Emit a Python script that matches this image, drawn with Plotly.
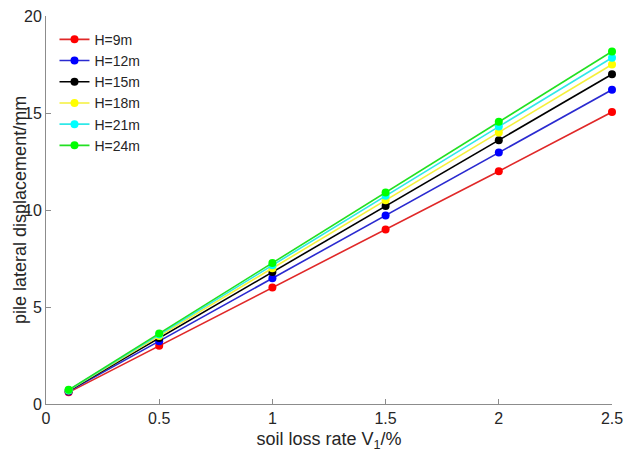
import plotly.graph_objects as go

x_vals = [0.1, 0.5, 1.0, 1.5, 2.0, 2.5]
names = ["H=9m", "H=12m", "H=15m", "H=18m", "H=21m", "H=24m"]
h9 = [0.60, 3.00, 6.00, 9.00, 12.00, 15.05]
h12 = [0.65, 3.24, 6.48, 9.72, 12.96, 16.20]
h15 = [0.68, 3.40, 6.80, 10.20, 13.60, 17.00]
h18 = [0.70, 3.50, 7.00, 10.50, 14.00, 17.50]
h21 = [0.715, 3.58, 7.15, 10.73, 14.30, 17.85]
h24 = [0.73, 3.64, 7.27, 10.90, 14.55, 18.17]
series = [h9, h12, h15, h18, h21, h24]
colors = ["#ff0000", "#0000ff", "#000000", "#ffff00", "#00ffff", "#00ff00"]
line_colors = ["#e02828", "#2a2ad0", "#000000", "#f5f03a", "#30e8e8", "#22e022"]

fig = go.Figure()
for name, ys, c, lc in zip(names, series, colors, line_colors):
    fig.add_trace(go.Scatter(
        x=x_vals, y=ys, name=name, mode="lines+markers",
        line=dict(color=lc, width=1.6),
        marker=dict(color=c, size=8, line=dict(width=0)),
        cliponaxis=False,
    ))

axis_common = dict(
    showgrid=False, zeroline=False, showline=True, linecolor="#8c8c8c",
    linewidth=1, ticks="inside", ticklen=5, tickcolor="#8c8c8c",
    tickfont=dict(family="Liberation Sans, Arial", size=16, color="#262626"),
    mirror=False, automargin=False,
)

fig.update_layout(
    width=624, height=460,
    margin=dict(l=46, r=12, t=16, b=56),
    paper_bgcolor="white", plot_bgcolor="white",
    font=dict(family="Liberation Sans, Arial", color="#262626"),
    xaxis=dict(range=[0, 2.5], tickvals=[0, 0.5, 1, 1.5, 2, 2.5],
               ticktext=["0", "0.5", "1", "1.5", "2", "2.5"],
               title=dict(text="soil loss rate V<sub>1</sub>/%",
                          font=dict(size=18, color="#262626"), standoff=6),
               **axis_common),
    yaxis=dict(range=[0, 20], tickvals=[0, 5, 10, 15, 20], **axis_common),
    legend=dict(x=0.015, y=0.98, xanchor="left", yanchor="top",
                bgcolor="rgba(0,0,0,0)", borderwidth=0,
                font=dict(size=14, color="#262626"),
                itemwidth=30, tracegroupgap=0),
    showlegend=True,
    annotations=[dict(
        text="pile lateral displacement/mm", textangle=-90,
        xref="paper", yref="paper", x=-0.046, y=0.5,
        xanchor="center", yanchor="middle", showarrow=False,
        font=dict(size=18, color="#262626"),
    )],
)

fig.write_html(
    "out.html",
    config={"displayModeBar": False},
    post_script="document.body.style.margin='0';document.body.style.overflow='hidden';",
)
